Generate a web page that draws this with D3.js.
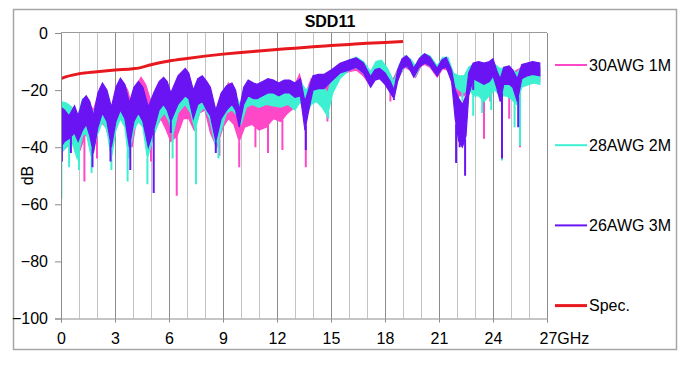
<!DOCTYPE html>
<html>
<head>
<meta charset="utf-8">
<script src="https://cdn.jsdelivr.net/npm/d3@7"></script>
<style>
  body { margin: 0; background: #fff; }
  svg text { font-family: "Liberation Sans", Arial, sans-serif; fill: #000; }
</style>
</head>
<body>
<svg id="view"></svg>
<script>

// SDD11 traces: [GHz, top of noisy band dB, bottom of band dB]
const awg30_1m = [
  [0.0,-27,-42],[0.3,-28,-40],[0.7,-27,-38],[1.0,-30,-42],[1.4,-23,-35],[1.8,-27,-40],
  [2.2,-19,-31],[2.5,-21,-33],[2.8,-27,-40],[3.1,-20,-32],[3.4,-17,-29],[3.7,-20,-33],
  [3.95,-26,-40],[4.2,-18,-30],[4.45,-15.5,-27],[4.7,-18,-30],[5.0,-24,-38],[5.3,-20,-33],
  [5.55,-17,-30],[5.85,-19,-34],[6.1,-24,-38],[6.45,-22,-36],[6.8,-16,-30],[7.1,-17,-30],
  [7.4,-22,-34],[7.7,-18,-28],[8.0,-17.5,-27],[8.3,-24,-35],[8.65,-28,-40],[9.0,-22,-33],
  [9.3,-17.5,-30],[9.6,-20,-32],[9.9,-28,-38],[10.2,-23,-33],[10.6,-22,-32],[11.0,-24,-34],
  [11.4,-23,-33],[11.8,-21,-30],[12.2,-22,-31],[12.6,-20,-28],[13.0,-18,-26],[13.25,-14.5,-22],
  [13.55,-22,-30],[13.9,-16,-23],[14.2,-15,-22],[14.5,-17,-24],[14.8,-19,-26],[15.1,-14,-19],
  [15.5,-11,-15],[16.0,-10,-13.5],[16.4,-9.5,-13],[16.8,-11,-15],[17.2,-14.5,-18.5],[17.5,-11,-14.5],
  [17.8,-10,-14],[18.1,-12.5,-16.5],[18.4,-17,-21],[18.8,-11.5,-15],[19.1,-8.5,-12],[19.4,-9.5,-13],
  [19.7,-12,-15.5],[20.0,-8.5,-11.5],[20.2,-8,-11],[20.5,-9,-12],[20.9,-12,-15.5],[21.2,-9,-12.5],
  [21.5,-9.5,-13],[21.8,-15,-19],[22.1,-17,-22],[22.4,-17,-22],[22.65,-13,-19],[22.9,-11.5,-18],
  [23.3,-12,-19],[23.7,-12,-19],[24.1,-11.5,-18],[24.4,-13,-20],[24.8,-12.5,-20],[25.2,-13.5,-21],
  [25.6,-12,-17],[26.0,-12,-16.5],[26.6,-12.5,-17]
];
const awg28_2m = [
  [0.0,-24,-42],[0.3,-24.5,-40],[0.6,-26,-38],[0.9,-30,-44],[1.2,-23,-36],[1.4,-22.5,-35],
  [1.7,-30,-44],[2.0,-24,-36],[2.3,-19,-31],[2.55,-22,-34],[2.8,-30,-44],[3.05,-22,-34],
  [3.3,-17.5,-30],[3.55,-20,-33],[3.75,-28,-44],[4.05,-22,-34],[4.3,-19,-31],[4.55,-22,-33],
  [4.8,-30,-44],[5.15,-24,-36],[5.5,-19,-30],[5.75,-17.5,-28],[6.0,-21,-31],[6.2,-25,-36],
  [6.5,-18,-28],[6.9,-14.5,-25],[7.2,-17,-28],[7.45,-23,-34],[7.7,-18.5,-28],[7.95,-16.5,-26],
  [8.25,-19.5,-30],[8.6,-28,-40],[8.9,-24,-34],[9.2,-20,-28],[9.5,-19.5,-27],[9.8,-23,-29],
  [10.0,-26,-32],[10.3,-20,-26],[10.6,-19.5,-25],[11.0,-20.5,-26],[11.4,-19.5,-25],[11.8,-20,-25.5],
  [12.2,-20.5,-26],[12.6,-19.5,-25],[13.0,-21,-27],[13.3,-17,-24],[13.6,-20,-29],[13.9,-18,-25],
  [14.2,-17,-24],[14.5,-18,-26],[14.8,-21,-29],[15.1,-15,-21],[15.5,-11.5,-16],[16.0,-9.5,-13],
  [16.4,-8.5,-12],[16.8,-10,-14],[17.2,-13.5,-18],[17.5,-10,-14],[17.8,-9.5,-13.5],[18.1,-12,-16],
  [18.5,-17,-20],[18.8,-11,-15],[19.1,-8,-11.5],[19.4,-9,-12.5],[19.7,-11.5,-15],[20.0,-8,-11],
  [20.2,-7.3,-10.5],[20.5,-8,-11.5],[20.9,-11.5,-14.5],[21.2,-8.5,-12],[21.5,-8.5,-12],[21.8,-14,-18],
  [22.1,-15,-20],[22.4,-15,-21],[22.65,-12,-19],[22.9,-11,-22],[23.2,-11,-22],[23.5,-11.5,-24],
  [23.8,-11,-22],[24.1,-11,-20],[24.4,-12.5,-22],[24.7,-12,-22],[25.0,-12.5,-23],[25.3,-14,-25],
  [25.6,-12,-19],[26.0,-12,-18],[26.3,-11.5,-17.5],[26.6,-12,-18]
];
const awg26_3m = [
  [0.0,-26,-40],[0.2,-27,-38],[0.45,-29,-37],[0.75,-25.5,-35],[0.95,-29,-38],[1.2,-23.5,-34],
  [1.4,-22,-32],[1.6,-24,-36],[1.8,-29,-42],[2.05,-21,-33],[2.3,-17.5,-28],[2.55,-20,-31],
  [2.8,-26,-40],[3.05,-19,-31],[3.3,-15.8,-27],[3.55,-18,-30],[3.8,-24.5,-40],[4.05,-19,-31],
  [4.3,-17,-28],[4.55,-19,-31],[4.85,-26,-40],[5.15,-21,-34],[5.45,-17,-27],[5.7,-15.5,-25],
  [5.9,-17,-27],[6.1,-21,-31],[6.5,-15,-25],[6.9,-12.4,-22],[7.1,-14,-23],[7.35,-20,-30],
  [7.6,-16,-25],[7.85,-15,-24],[8.1,-17,-27],[8.3,-19,-29],[8.6,-27,-38],[8.9,-21,-30],
  [9.2,-18.5,-27],[9.5,-17.5,-25],[9.7,-20,-27],[9.9,-27,-33],[10.15,-19,-25],[10.4,-16.5,-22],
  [10.7,-17.5,-23],[10.9,-18,-23],[11.2,-17,-22],[11.5,-16,-21],[11.8,-16.5,-21],[12.1,-17.5,-22],
  [12.4,-16.5,-21],[12.7,-16.5,-21],[13.0,-17.5,-22.5],[13.3,-16,-22],[13.55,-24,-34],[13.8,-19,-26],
  [14.0,-15,-20],[14.3,-14.5,-19.5],[14.6,-14.5,-19.5],[15.0,-13,-17],[15.5,-10.6,-14],[16.0,-9.5,-13],
  [16.4,-8.7,-12],[16.8,-10.5,-14],[17.2,-15.3,-19],[17.45,-12.8,-16.5],[17.7,-12.4,-16],[18.0,-14,-18],
  [18.3,-17,-21],[18.5,-20,-23],[18.7,-13,-17],[18.95,-9,-12.5],[19.2,-8,-11.5],[19.4,-9.5,-13],
  [19.6,-12.4,-15.5],[19.9,-9,-12],[20.2,-7.3,-10.5],[20.5,-8.5,-11.5],[20.9,-12.4,-15],[21.15,-9.5,-12.5],
  [21.4,-8.5,-12],[21.7,-13,-17],[21.9,-20,-30],[22.1,-23,-38],[22.3,-25,-40],[22.5,-22,-36],
  [22.65,-14,-22],[22.9,-10.5,-16],[23.2,-10,-17],[23.5,-10.5,-18],[23.8,-10,-17],[24.0,-9,-15],
  [24.2,-13,-19],[24.4,-16,-24],[24.6,-12,-18],[24.9,-11.5,-18],[25.1,-13,-19],[25.35,-16,-24],
  [25.6,-11,-16],[25.9,-10.5,-15],[26.2,-10,-14.5],[26.6,-10.5,-15]
];

// deep resonance spikes below the band: [GHz, lowest dB]
const awg30_1mDips = [[1.3,-52],[2.0,-44],[5.0,-45],[6.43,-57],[8.8,-43],[9.9,-47],[10.8,-40],[11.5,-42],
  [12.3,-41],[13.6,-47],[14.8,-31],[18.3,-24],[22.05,-27],[23.5,-37],[23.85,-24],[24.9,-30],[25.5,-40]];
const awg28_2mDips = [[0.02,-58],[0.45,-47],[1.0,-48],[1.7,-49],[2.8,-48],[3.7,-52],[4.8,-53],[6.2,-44],
  [7.5,-53],[8.75,-44],[14.85,-30],[22.3,-24],[22.9,-29],[23.4,-28],[23.9,-27],[24.5,-44.7],[25.2,-33],[25.5,-39.6]];
const awg26_3mDips = [[0.05,-45],[0.55,-42],[1.75,-47],[2.75,-45],[3.85,-48],[5.15,-56],[6.1,-35],[8.6,-42],
  [13.6,-41],[18.5,-23.5],[21.95,-45.5],[22.15,-40],[22.45,-50],[22.9,-20],[24.5,-44],[25.4,-33]];

// spec limit line [GHz, dB]
const specLimit = [[0,-16],[0.3,-15.3],[1,-14.3],[2,-13.6],[3,-13.0],[4,-12.5],[4.3,-12.3],[5,-11.1],
  [6,-9.8],[7,-8.9],[8,-8.1],[9,-7.4],[10,-6.8],[11,-6.3],[12,-5.8],[13,-5.3],[14,-4.8],[15,-4.4],
  [16,-4.0],[17,-3.6],[18,-3.3],[19,-3.0]];

const xTicks = [0,3,6,9,12,15,18,21,24,27];
const yTicks = [0,-20,-40,-60,-80,-100];
const legendNames = ['30AWG 1M','28AWG 2M','26AWG 3M','Spec.'];
const legendColors = ['#ff48c8','#3ef0d2','#6a14f4','#e8191e'];


const W = 692, H = 366;
const svg = d3.select('#view').attr('width', W).attr('height', H);

// outer frame
svg.append('rect')
  .attr('x', 13.5).attr('y', 9.5).attr('width', 663).attr('height', 340)
  .attr('fill', '#fff').attr('stroke', '#a6a6a6').attr('stroke-width', 1.5);

const x = d3.scaleLinear().domain([0, 27]).range([61, 547]);
const y = d3.scaleLinear().domain([-100, 0]).range([318.5, 33]);

// vertical grid every GHz, darker on the labelled ones
svg.append('g').selectAll('line')
  .data(d3.range(1, 28))
  .enter().append('line')
  .attr('x1', d => x(d) + 0.5).attr('x2', d => x(d) + 0.5)
  .attr('y1', y(0)).attr('y2', y(-100))
  .attr('stroke', d => d % 3 == 0 ? '#8c8c8c' : '#c4c4c4')
  .attr('stroke-width', 1);

// top border of plot area
svg.append('line')
  .attr('x1', x(0)).attr('x2', x(27)).attr('y1', y(0) - 0.5).attr('y2', y(0) - 0.5)
  .attr('stroke', '#9a9a9a');

svg.append('clipPath').attr('id', 'plotclip')
  .append('rect').attr('x', x(0)).attr('y', y(0)).attr('width', x(27) - x(0)).attr('height', y(-100) - y(0));

const plot = svg.append('g').attr('clip-path', 'url(#plotclip)');

const bandBottom = function(series, f){
  const i = d3.bisector(d => d[0]).left(series, f);
  if (i <= 0) return series[0][2];
  if (i >= series.length) return series[series.length - 1][2];
  const a = series[i - 1], b = series[i];
  const t = (f - a[0]) / (b[0] - a[0]);
  return a[2] + t * (b[2] - a[2]);
}

const plotTrace = function(series, dips, color){
  const band = d3.area()
    .x(d => x(d[0]))
    .y0(d => y(d[2]))
    .y1(d => y(d[1]));

  plot.append('path')
    .datum(series)
    .attr('d', band)
    .attr('fill', color)
    .attr('stroke', color)
    .attr('stroke-width', 1.2);

  plot.append('g').selectAll('line')
    .data(dips)
    .enter().append('line')
    .attr('x1', d => x(d[0])).attr('x2', d => x(d[0]))
    .attr('y1', d => y(bandBottom(series, d[0])))
    .attr('y2', d => y(d[1]))
    .attr('stroke', color)
    .attr('stroke-width', 2);
}

plotTrace(awg30_1m, awg30_1mDips, legendColors[0]);
plotTrace(awg28_2m, awg28_2mDips, legendColors[1]);
plotTrace(awg26_3m, awg26_3mDips, legendColors[2]);

const specLine = d3.line().x(d => x(d[0])).y(d => y(d[1])).curve(d3.curveMonotoneX);
plot.append('path')
  .datum(specLimit)
  .attr('d', specLine)
  .attr('fill', 'none')
  .attr('stroke', legendColors[3])
  .attr('stroke-width', 3);

// axes
const yAxis = d3.axisLeft(y).tickValues(yTicks).tickSize(6).tickPadding(7).tickFormat(d3.format('d'));
const gy = svg.append('g').attr('transform', `translate(${x(0)},0)`).call(yAxis);

const xAxis = d3.axisBottom(x).tickValues(xTicks).tickSize(4).tickPadding(10)
  .tickFormat(d => d == 27 ? '27GHz' : d);
const gx = svg.append('g').attr('transform', `translate(0,${y(-100)})`).call(xAxis);

[gx, gy].forEach(g => {
  g.select('.domain').attr('stroke', '#8c8c8c');
  g.selectAll('.tick line').attr('stroke', '#8c8c8c');
  g.selectAll('text').attr('font-size', 16).attr('fill', '#000')
    .style('font-family', '"Liberation Sans", Arial, sans-serif');
});
gx.selectAll('.tick').filter(d => d == 27).select('text')
  .attr('text-anchor', 'start').attr('dx', -8);

svg.append('text')
  .attr('x', 330).attr('y', 26.5)
  .attr('text-anchor', 'middle')
  .attr('font-size', 16).attr('font-weight', 'bold')
  .text('SDD11');

svg.append('text')
  .attr('transform', 'translate(33,175.5) rotate(-90)')
  .attr('text-anchor', 'middle')
  .attr('font-size', 16)
  .text('dB');

// legend
const legend = svg.append('g').selectAll('g')
  .data(legendNames)
  .enter().append('g')
  .attr('transform', (d, i) => `translate(555,${65 + i * 80.2})`);

legend.append('line')
  .attr('x1', 0).attr('x2', 32).attr('y1', 0).attr('y2', 0)
  .attr('stroke', (d, i) => legendColors[i])
  .attr('stroke-width', (d, i) => i == 3 ? 3 : 2);

legend.append('text')
  .attr('x', 34).attr('y', 5.8)
  .attr('font-size', 16)
  .text(d => d);

</script>
</body>
</html>
